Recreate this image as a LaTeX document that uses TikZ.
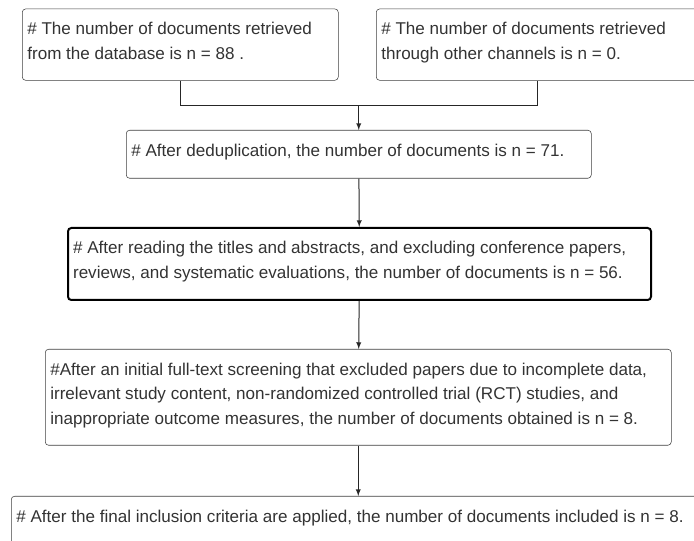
\documentclass[tikz,border=0pt]{standalone}
\usepackage{fontspec}
\setmainfont{Liberation Sans}
\usepackage{tikz}
\usetikzlibrary{arrows,calc,positioning}
\newcommand{\boxtext}[3]{\parbox[t][#2][t]{#1}{\raggedright\rule{0pt}{19.5pt}#3}}
\tikzset{%
	record/.style   = {draw=black!75, rounded corners=2.5pt, anchor=north west, inner xsep=3.8pt, inner ysep=0pt, text=black!80, font=\fontsize{12.8pt}{18.5pt}\selectfont},
	keystep/.style  = {record, draw=black, line width=1.5pt},
	link/.style     = {draw=black!85, line width=0.75pt},
	arrow/.style    = {link,-latex},
}
\begin{document}
\begin{tikzpicture}[x=0.75pt,y=-0.75pt]
	\clip (0,0) rectangle (694,541);
	\fill[white] (0,0) rectangle (694,541);
	
	\node[record] (db) at (22,8.7) {\boxtext{229.4pt}{53.5pt}{\# The number of documents retrieved\\from the database is n = 88 .}};
	\node[record] (other) at (376,8.7) {\boxtext{233.9pt}{53.5pt}{\# The number of documents retrieved\\through other channels is n = 0.}};
	\node[record] (dedup) at (126,130) {\boxtext{341.15pt}{36pt}{\# After deduplication, the number of documents is n = 71.}};
	\node[keystep] (screen) at (67,227) {\boxtext{429.65pt}{54pt}{\# After reading the titles and abstracts, and excluding conference papers,\\reviews, and systematic evaluations, the number of documents is n = 56.}};
	\node[record] (fulltext) at (45,349) {\boxtext{461.9pt}{72pt}{\#After an initial full-text screening that excluded papers due to incomplete data,\\irrelevant study content, non-randomized controlled trial (RCT) studies, and\\inappropriate outcome measures, the number of documents obtained is n = 8.}};
	\node[record] (final) at (11,496) {\boxtext{512.9pt}{36pt}{\# After the final inclusion criteria are applied, the number of documents included is n = 8.}};
	
	\coordinate (join) at (dedup.north |- 0,105.5);
	\draw[link] (db.south) |- (join) -| (other.south);
	\draw[arrow] (join) -- (dedup);
	\draw[arrow] (dedup) -- (screen);
	\draw[arrow] (screen) -- (fulltext);
	\draw[arrow] (fulltext) -- (final);
\end{tikzpicture}
\end{document}
